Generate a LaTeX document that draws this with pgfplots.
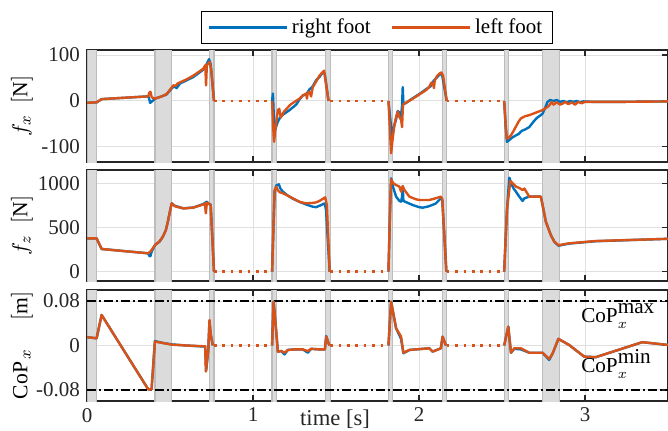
\documentclass[border=0pt]{standalone}
\usepackage{fontspec}
\setmainfont{Liberation Serif}
\usepackage{pgfplots}
\pgfplotsset{compat=1.18}
\definecolor{mblue}{HTML}{0072BD}
\definecolor{morange}{HTML}{D95319}
\definecolor{axgray}{HTML}{262626}

\newcommand{\shadereg}[4]{\addplot[fill=black!14, draw=black!26, line width=0.6pt, forget plot] coordinates {(#1,#3) (#2,#3) (#2,#4) (#1,#4)} --cycle;}
\newcommand{\allshades}[2]{%
  \shadereg{0}{0.058}{#1}{#2}
  \shadereg{0.41}{0.51}{#1}{#2}
  \shadereg{0.74}{0.765}{#1}{#2}
  \shadereg{1.115}{1.14}{#1}{#2}
  \shadereg{1.437}{1.465}{#1}{#2}
  \shadereg{1.816}{1.842}{#1}{#2}
  \shadereg{2.142}{2.168}{#1}{#2}
  \shadereg{2.513}{2.539}{#1}{#2}
  \shadereg{2.744}{2.844}{#1}{#2}
}
\newcommand{\flight}{%
  \addplot[mblue, line width=1.3pt, dash pattern=on 1.3pt off 2.9pt, forget plot] coordinates {(0.765,0) (1.115,0) (1.3,nan) (1.465,0) (1.816,0) (2.0,nan) (2.168,0) (2.513,0)};
  \addplot[morange, line width=1.3pt, dash pattern=on 1.3pt off 2.9pt, forget plot] coordinates {(0.765,0) (1.115,0) (1.3,nan) (1.465,0) (1.816,0) (2.0,nan) (2.168,0) (2.513,0)};
}

\pgfplotsset{
  myax/.style={
    scale only axis, width=290.5pt,
    xmin=0, xmax=3.5,
    xtick={0,1,2,3},
    grid=major, major grid style={draw=black!12, line width=0.5pt},
    axis line style={draw=axgray, line width=0.7pt},
    tick style={draw=axgray, line width=0.6pt},
    major tick length=3pt, tick align=inside,
    tick label style={font=\fontsize{10.5}{12}\selectfont, text=axgray},
    /pgf/number format/assume math mode=true,
    every axis y label/.style={at={(axis description cs:-0.112,0.5)}, rotate=90, anchor=center, font=\fontsize{10.8}{13}\selectfont},
    unbounded coords=jump,
    clip=true,
  },
  blue line/.style={mblue, line width=1.2pt, line join=round},
  orange line/.style={morange, line width=1.2pt, line join=round},
}

\begin{document}
\begin{tikzpicture}
\path[use as bounding box] (0,0) rectangle (334pt,215pt);

%% ---------------- f_x ----------------
\begin{axis}[myax, at={(43.5pt,134pt)}, anchor=south west, height=56pt,
  ymin=-133, ymax=111, ytick={-100,0,100}, yticklabels={-100,0,100},
  xticklabels={},
  ylabel={$f_x\ \;[\mathrm{N}]$},
  legend columns=2,
  legend style={at={(axis description cs:0.1962,1.0536)}, anchor=south west,
    draw=black, line width=0.6pt, font=\fontsize{10.5}{12}\selectfont,
    inner xsep=3pt, inner ysep=1.5pt,
    /tikz/every even column/.append style={column sep=8pt}},
  legend image code/.code={\draw[#1, line width=1.2pt] (0pt,0pt) -- (39pt,0pt);},
]
\allshades{-200}{200}
\flight
\addplot[blue line] coordinates {
(0,-4) (0.058,-3) (0.088,4) (0.369,10) (0.375,4) (0.38,-4) (0.385,-3) (0.41,5) (0.45,10) (0.479,14) (0.51,27) (0.525,32) (0.54,28) (0.56,38) (0.6,45) (0.64,52) (0.7,68) (0.72,80) (0.735,91) (0.745,80) (0.765,0)
(0.9,nan)
(1.115,0) (1.12,16) (1.125,-30) (1.134,-63) (1.14,-55) (1.15,-45) (1.165,-35) (1.18,-30) (1.2,-25) (1.22,-20) (1.26,-8) (1.28,3) (1.3,12) (1.32,14) (1.34,25) (1.36,32) (1.38,45) (1.40,52) (1.42,62) (1.432,60) (1.455,0)
(1.6,nan)
(1.816,0) (1.83,-50) (1.838,-75) (1.85,-55) (1.862,-40) (1.872,-22) (1.882,-25) (1.89,-40) (1.898,-10) (1.902,30) (1.906,-6) (1.92,-5) (1.95,3) (1.98,10) (2.01,17) (2.04,25) (2.07,32) (2.09,45) (2.11,52) (2.13,60) (2.14,55) (2.167,0)
(2.3,nan)
(2.513,0) (2.522,-55) (2.53,-89) (2.545,-85) (2.56,-80) (2.584,-75) (2.6,-72) (2.62,-65) (2.64,-62) (2.664,-57) (2.69,-45) (2.71,-37) (2.744,-28) (2.76,-15) (2.774,-2) (2.79,2) (2.81,0) (2.83,2) (2.85,-2) (2.87,0) (2.89,-3) (2.91,0) (2.93,-2) (2.95,0) (2.97,-3) (2.99,-1) (3.05,-2) (3.2,-2) (3.5,-1)
};
\addlegendentry{right foot}
\addplot[orange line] coordinates {
(0,-4) (0.058,-3) (0.088,4) (0.369,10) (0.375,18) (0.382,20) (0.39,8) (0.41,5) (0.45,10) (0.479,15) (0.51,29) (0.52,34) (0.535,33) (0.545,38) (0.6,47) (0.64,55) (0.7,70) (0.713,78) (0.717,34) (0.722,78) (0.738,85) (0.748,70) (0.765,0)
(0.9,nan)
(1.115,0) (1.122,-60) (1.127,-89) (1.135,-60) (1.15,-20) (1.158,-17) (1.168,-36) (1.185,-24) (1.2,-18) (1.225,-8) (1.25,-2) (1.28,5) (1.30,12) (1.32,16) (1.325,5) (1.33,18) (1.34,20) (1.35,10) (1.36,30) (1.38,42) (1.4,55) (1.42,63) (1.428,66) (1.455,0)
(1.6,nan)
(1.816,0) (1.826,-70) (1.832,-114) (1.842,-80) (1.852,-52) (1.862,-35) (1.872,-23) (1.882,-35) (1.892,-40) (1.898,-57) (1.903,-10) (1.91,-6) (1.95,2) (1.98,9) (2.01,16) (2.04,23) (2.06,30) (2.075,40) (2.085,38) (2.09,28) (2.095,45) (2.11,55) (2.125,60) (2.135,62) (2.145,55) (2.167,0)
(2.3,nan)
(2.513,0) (2.52,-40) (2.528,-82) (2.54,-80) (2.554,-75) (2.57,-65) (2.585,-55) (2.6,-45) (2.614,-38) (2.64,-33) (2.664,-31) (2.7,-26) (2.744,-20) (2.77,-14) (2.784,-10) (2.8,-2) (2.81,-8) (2.83,-3) (2.85,-8) (2.864,-6) (2.88,-2) (2.9,-7) (2.92,-3) (2.94,-8) (2.96,-2) (2.98,-5) (3.0,-2) (3.2,-2) (3.5,-1)
};
\addlegendentry{left foot}
\end{axis}

%% ---------------- f_z ----------------
\begin{axis}[myax, at={(43.5pt,74.5pt)}, anchor=south west, height=55.5pt,
  ymin=-105, ymax=1150, ytick={0,500,1000}, yticklabels={0,500,1000},
  xticklabels={},
  ylabel={$f_z\ \;[\mathrm{N}]$},
]
\allshades{-200}{1300}
\flight
\addplot[blue line] coordinates {
(0,377) (0.058,377) (0.088,257) (0.369,208) (0.375,180) (0.382,175) (0.39,230) (0.41,302) (0.437,340) (0.457,396) (0.475,470) (0.487,566) (0.51,773) (0.53,745) (0.58,717) (0.64,725) (0.7,765) (0.722,792) (0.73,770) (0.745,760) (0.765,0)
(0.9,nan)
(1.115,0) (1.13,900) (1.14,975) (1.156,988) (1.165,940) (1.18,905) (1.21,860) (1.24,825) (1.28,790) (1.32,760) (1.36,735) (1.38,730) (1.40,745) (1.432,773) (1.44,700) (1.462,0)
(1.6,nan)
(1.816,0) (1.826,700) (1.832,1056) (1.845,950) (1.862,849) (1.882,800) (1.892,792) (1.898,850) (1.902,960) (1.906,800) (1.93,780) (1.962,754) (2.0,730) (2.022,724) (2.06,740) (2.1,770) (2.132,830) (2.14,820) (2.165,0)
(2.3,nan)
(2.513,0) (2.53,700) (2.544,1063) (2.555,1000) (2.57,940) (2.584,905) (2.6,860) (2.624,800) (2.635,830) (2.664,849) (2.734,849) (2.75,700) (2.764,566) (2.794,415) (2.815,340) (2.84,294) (2.904,318) (3.065,345) (3.5,372)
};
\addplot[orange line] coordinates {
(0,377) (0.058,377) (0.088,257) (0.369,208) (0.385,235) (0.41,302) (0.437,345) (0.457,396) (0.475,470) (0.487,566) (0.51,773) (0.53,740) (0.58,715) (0.64,725) (0.7,760) (0.71,773) (0.716,660) (0.722,780) (0.735,770) (0.745,750) (0.765,0)
(0.9,nan)
(1.115,0) (1.13,920) (1.14,962) (1.15,920) (1.16,900) (1.18,887) (1.21,860) (1.24,830) (1.28,790) (1.32,773) (1.36,778) (1.38,784) (1.40,800) (1.435,841) (1.445,750) (1.462,0)
(1.6,nan)
(1.816,0) (1.826,750) (1.832,1045) (1.845,1000) (1.862,980) (1.882,962) (1.892,905) (1.902,970) (1.91,930) (1.942,849) (1.98,820) (2.002,811) (2.062,811) (2.1,830) (2.132,849) (2.14,820) (2.165,0)
(2.3,nan)
(2.513,0) (2.53,700) (2.55,1026) (2.57,990) (2.584,962) (2.6,950) (2.624,924) (2.635,940) (2.664,849) (2.734,849) (2.75,700) (2.764,566) (2.794,415) (2.815,340) (2.84,300) (2.904,321) (3.065,347) (3.5,372)
};
\end{axis}

%% ---------------- CoP_x ----------------
\begin{axis}[myax, at={(43.5pt,14.5pt)}, anchor=south west, height=55.5pt,
  ymin=-0.1, ymax=0.1, ytick={-0.08,0,0.08}, yticklabels={-0.08,0,0.08},
  ylabel={$\mathrm{CoP}_{\,x}\quad\;[\mathrm{m}]$},
  xlabel={time [s]},
  xlabel style={at={(axis description cs:0.4269,0)}, anchor=north, yshift=-1pt, font=\fontsize{11.3}{13}\selectfont, text=axgray},
]
\allshades{-0.2}{0.2}
\addplot[black, line width=0.7pt, dash pattern=on 4.5pt off 1.5pt on 1pt off 1.5pt, forget plot] coordinates {(0,0.08) (3.5,0.08)};
\addplot[black, line width=0.7pt, dash pattern=on 4.5pt off 1.5pt on 1pt off 1.5pt, forget plot] coordinates {(0,-0.08) (3.5,-0.08)};
\flight
\addplot[blue line] coordinates {
(0,0.015) (0.058,0.013) (0.088,0.055) (0.369,-0.079) (0.389,-0.079) (0.409,0.008) (0.45,0.005) (0.51,0.002) (0.6,0) (0.712,-0.002) (0.718,-0.045) (0.73,-0.01) (0.738,0.045) (0.745,0.02) (0.758,0)
(0.9,nan)
(1.115,0) (1.124,0.079) (1.14,0.025) (1.15,-0.011) (1.17,-0.01) (1.19,-0.016) (1.21,-0.008) (1.25,-0.007) (1.3,-0.007) (1.33,-0.013) (1.35,-0.006) (1.4,-0.007) (1.433,-0.007) (1.441,0.017) (1.46,0)
(1.6,nan)
(1.816,0) (1.832,0.079) (1.862,0.031) (1.892,0.012) (1.906,-0.014) (1.942,-0.008) (2.062,-0.005) (2.082,-0.011) (2.132,-0.005) (2.142,0.016) (2.162,0)
(2.3,nan)
(2.513,0) (2.538,0.034) (2.554,-0.013) (2.574,-0.006) (2.614,-0.007) (2.664,-0.013) (2.744,-0.013) (2.784,-0.026) (2.804,-0.015) (2.84,0.012) (2.904,0.001) (2.995,-0.020) (3.065,-0.021) (3.345,0.006) (3.5,0.001)
};
\addplot[orange line] coordinates {
(0,0.015) (0.058,0.013) (0.088,0.055) (0.369,-0.079) (0.389,-0.079) (0.409,0.007) (0.45,0.005) (0.51,0.0015) (0.6,0) (0.712,-0.0015) (0.716,-0.047) (0.73,-0.01) (0.738,0.046) (0.745,0.02) (0.758,0)
(0.9,nan)
(1.115,0) (1.124,0.079) (1.14,0.025) (1.15,-0.011) (1.17,-0.01) (1.19,-0.013) (1.21,-0.008) (1.25,-0.007) (1.3,-0.007) (1.33,-0.01) (1.35,-0.006) (1.4,-0.007) (1.433,-0.007) (1.441,0.016) (1.46,0)
(1.6,nan)
(1.816,0) (1.832,0.079) (1.862,0.031) (1.892,0.016) (1.906,-0.013) (1.942,-0.008) (2.062,-0.005) (2.082,-0.011) (2.132,-0.005) (2.142,0.016) (2.162,0)
(2.3,nan)
(2.513,0) (2.538,0.034) (2.554,-0.013) (2.574,-0.005) (2.614,-0.005) (2.664,-0.013) (2.744,-0.013) (2.784,-0.024) (2.804,-0.015) (2.84,0.012) (2.904,0.001) (2.995,-0.020) (3.065,-0.021) (3.345,0.006) (3.5,0.001)
};
\node[font=\fontsize{10.6}{12}\selectfont, anchor=base west, inner sep=0pt] at (axis cs:2.975,0.0406) {$\mathrm{CoP}_x^{\textstyle\mathrm{max}}$};
\node[font=\fontsize{10.6}{12}\selectfont, anchor=base west, inner sep=0pt] at (axis cs:2.975,-0.0489) {$\mathrm{CoP}_x^{\textstyle\mathrm{min}}$};
\end{axis}
\end{tikzpicture}
\end{document}
